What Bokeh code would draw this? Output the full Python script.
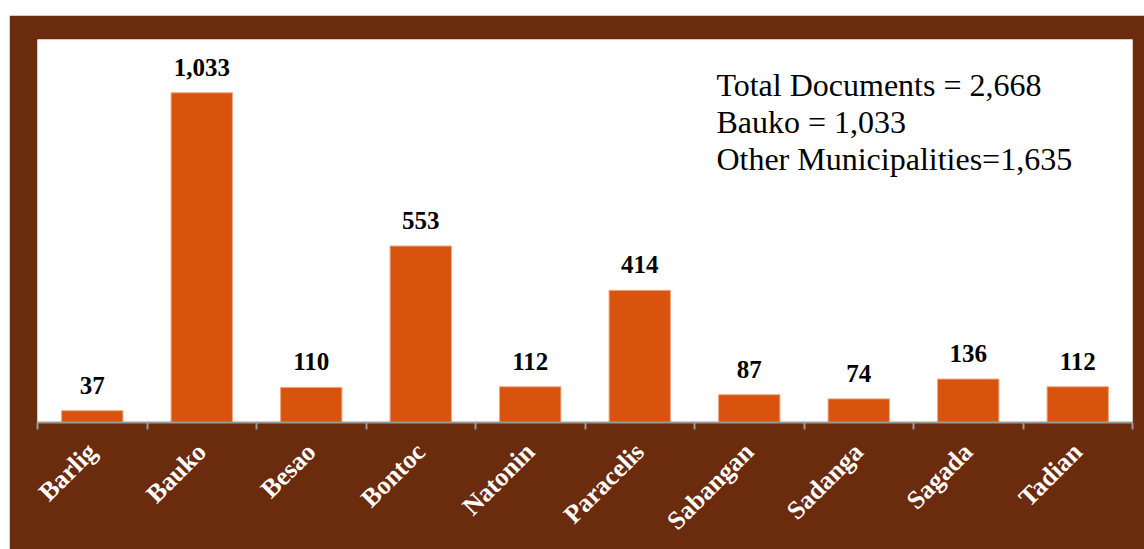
import math
from bokeh.plotting import figure
from bokeh.models import Range1d, FixedTicker, ColumnDataSource, LabelSet, Label, Spacer
from bokeh.layouts import column, row
from bokeh.embed import file_html
from bokeh.resources import INLINE

municipalities = ["Barlig", "Bauko", "Besao", "Bontoc", "Natonin", "Paracelis",
                  "Sabangan", "Sadanga", "Sagada", "Tadian"]
documents = [37, 1033, 110, 553, 112, 414, 87, 74, 136, 112]
summary_lines = ["Total Documents = 2,668", "Bauko = 1,033", "Other Municipalities=1,635"]

BROWN = "#6B2B0D"
ORANGE = "#D8540E"
n = len(municipalities)
centers = [i + 0.5 for i in range(n)]

src = ColumnDataSource(dict(
    x=centers,
    top=documents,
    lbl=[f"{v:,}" for v in documents],
))

p = figure(width=1135, height=534, x_range=Range1d(0, n), y_range=Range1d(0, 1200),
           output_backend="svg", toolbar_location=None,
           min_border_left=28, min_border_right=12, min_border_top=24, min_border_bottom=127)
p.background_fill_color = "white"
p.border_fill_color = BROWN
p.outline_line_color = None
p.xgrid.visible = False
p.ygrid.visible = False
p.yaxis.visible = False

p.vbar(x="x", top="top", width=0.56, source=src, fill_color=ORANGE,
       line_color="#EFA47C", line_width=1)

labels = LabelSet(x="x", y="top", text="lbl", source=src, y_offset=17,
                  text_align="center", text_baseline="alphabetic",
                  text_font="Liberation Serif", text_font_style="bold",
                  text_font_size="25px", text_color="black")
p.add_layout(labels)

ax = p.xaxis[0]
ax.ticker = FixedTicker(ticks=centers, minor_ticks=list(range(n + 1)))
ax.major_label_overrides = {c: m for c, m in zip(centers, municipalities)}
ax.major_tick_line_color = None
ax.major_tick_out = 0
ax.major_tick_in = 0
ax.minor_tick_line_color = "#9A9A9A"
ax.minor_tick_line_width = 2
ax.minor_tick_out = 7
ax.minor_tick_in = 0
ax.axis_line_color = "#9A9A9A"
ax.axis_line_width = 2
ax.major_label_orientation = math.pi / 4
ax.major_label_standoff = 18
ax.major_label_text_font = "Liberation Serif"
ax.major_label_text_font_style = "bold"
ax.major_label_text_font_size = "26px"
ax.major_label_text_color = "white"

for i, line in enumerate(summary_lines):
    p.add_layout(Label(x=6.2, y=1059 - i * 116, text=line,
                       text_font="Liberation Serif", text_font_size="32px",
                       text_color="black", text_baseline="alphabetic"))

layout = column(Spacer(height=15, width=1144),
                row(Spacer(width=9, height=534), p, spacing=0),
                spacing=0)
open("out.html", "w").write(file_html(layout, INLINE))
